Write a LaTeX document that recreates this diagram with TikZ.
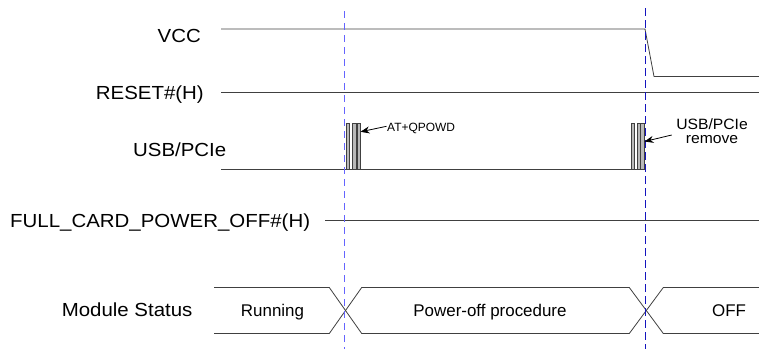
\documentclass[tikz,border=0pt]{standalone}
\usepackage{fontspec}
\setmainfont{Liberation Sans}
\usetikzlibrary{arrows.meta}
\tikzset{
  sig/.style={draw=black!75, line width=0.8bp},
  lbl/.style={inner sep=0pt, font=\fontsize{19}{19}\selectfont, xscale=1.08},
  stat/.style={inner sep=0pt, font=\fontsize{17}{17}\selectfont},
  note/.style={inner sep=0pt, font=\fontsize{12}{12}\selectfont},
  bar/.style={draw=black!75, fill=gray!55, line width=0.6bp},
  mark1/.style={draw={rgb,255:red,100;green,100;blue,255}, line width=0.9bp, dash pattern=on 7bp off 5bp},
  mark2/.style={draw={rgb,255:red,20;green,20;blue,190}, line width=0.9bp, dash pattern=on 8bp off 4bp},
  ptr/.style={draw=black, line width=0.8bp, -{Stealth[length=9bp,width=7bp]}}
}
\begin{document}
\begin{tikzpicture}[x=1bp,y=-1bp]
\useasboundingbox (0,0) rectangle (759,349);
% labels
\node[lbl, anchor=base east] (lvcc) at (201,42.3) {VCC};
\node[lbl, anchor=base east] (lrst) at (204,99.5) {RESET\#(H)};
\node[lbl, anchor=base east] (lusb) at (226.5,156.7) {USB/PCIe};
\node[lbl, anchor=base west] (lfc) at (10,227) {FULL\_CARD\_POWER\_OFF\#(H)};
\node[lbl, anchor=base east] (lms) at (192.7,316) {Module Status};
% coordinates
\coordinate (v0) at (221,29);
\coordinate (v1) at (645,29);
\coordinate (v2) at (654,76.5);
\coordinate (v3) at (759,76.5);
\coordinate (r0) at (221,92.5);
\coordinate (r1) at (759,92.5);
\coordinate (u0) at (221,169);
\coordinate (u1) at (644,169);
\coordinate (f0) at (325,220);
\coordinate (f1) at (759,220);
% signals
\draw[sig] (v0) -- (v1) -- (v2) -- (v3);
\draw[sig] (r0) -- (r1);
\draw[sig] (u0) -- (u1);
\draw[sig] (f0) -- (f1);
% bursts
\draw[bar] (346,123.3) rectangle (349.5,169);
\draw[bar] (352.7,123.3) rectangle (356,169);
\draw[bar] (357.3,123.3) rectangle (360.3,169);
\draw[bar] (631,123.3) rectangle (634,169);
\draw[bar] (637.7,123.3) rectangle (640.3,169);
\draw[bar] (640.3,123.3) rectangle (644,169);
% module status
\coordinate (s0t) at (214,287.5);
\coordinate (s0b) at (214,333.5);
\coordinate (x1a) at (329.3,287.5);
\coordinate (x1b) at (329.3,333.5);
\coordinate (x1c) at (361.7,287.5);
\coordinate (x1d) at (361.7,333.5);
\coordinate (x2a) at (629.3,287.5);
\coordinate (x2b) at (629.3,333.5);
\coordinate (x2c) at (663.3,287.5);
\coordinate (x2d) at (663.3,333.5);
\coordinate (s9t) at (759,287.5);
\coordinate (s9b) at (759,333.5);
\draw[sig] (s0t) -- (x1a) -- (x1d) -- (x2b) -- (x2c) -- (s9t);
\draw[sig] (s0b) -- (x1b) -- (x1c) -- (x2a) -- (x2d) -- (s9b);
\node[stat, anchor=base] (run) at (272.5,316) {Running};
\node[stat, anchor=base] (poff) at (490,316) {Power-off procedure};
\node[stat, anchor=base] (off) at (729,316) {OFF};
% markers
\coordinate (m1t) at (344.5,11);
\coordinate (m1b) at (344.5,349);
\coordinate (m2t) at (645.5,8);
\coordinate (m2b) at (645.5,349);
\draw[mark1] (m1t) -- (m1b);
\draw[mark2] (m2t) -- (m2b);
% notes
\node[note, anchor=base west] (atq) at (387,131.7) {AT+QPOWD};
\coordinate (atqt) at (386.5,126.3);
\coordinate (atqh) at (360.5,131.8);
\draw[ptr] (atqt) -- (atqh);
\node[inner sep=0pt, align=center, font=\fontsize{15}{14}\selectfont, xscale=1.05, anchor=north] (rem) at (712,118.5) {USB/PCIe\\remove};
\coordinate (remt) at (671.7,135);
\coordinate (remh) at (644.5,141.5);
\draw[ptr] (remt) -- (remh);
\end{tikzpicture}
\end{document}
